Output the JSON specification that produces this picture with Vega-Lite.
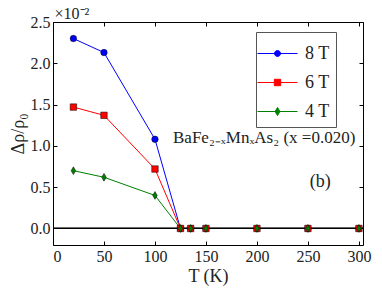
{
  "$schema": "https://vega.github.io/schema/vega-lite/v6.json",
  "width": 310,
  "height": 223,
  "autosize": "none",
  "padding": {"left": 53, "top": 22, "right": 19, "bottom": 43},
  "background": "white",
  "data": {
    "values": [
      {"T": 20, "v": 2.30, "s": "8 T"},
      {"T": 50, "v": 2.13, "s": "8 T"},
      {"T": 100, "v": 1.08, "s": "8 T"},
      {"T": 125, "v": 0, "s": "8 T"},
      {"T": 135, "v": 0, "s": "8 T"},
      {"T": 150, "v": 0, "s": "8 T"},
      {"T": 200, "v": 0, "s": "8 T"},
      {"T": 250, "v": 0, "s": "8 T"},
      {"T": 300, "v": 0, "s": "8 T"},
      {"T": 20, "v": 1.47, "s": "6 T"},
      {"T": 50, "v": 1.37, "s": "6 T"},
      {"T": 100, "v": 0.72, "s": "6 T"},
      {"T": 125, "v": 0, "s": "6 T"},
      {"T": 135, "v": 0, "s": "6 T"},
      {"T": 150, "v": 0, "s": "6 T"},
      {"T": 200, "v": 0, "s": "6 T"},
      {"T": 250, "v": 0, "s": "6 T"},
      {"T": 300, "v": 0, "s": "6 T"},
      {"T": 20, "v": 0.70, "s": "4 T"},
      {"T": 50, "v": 0.62, "s": "4 T"},
      {"T": 100, "v": 0.40, "s": "4 T"},
      {"T": 125, "v": 0, "s": "4 T"},
      {"T": 135, "v": 0, "s": "4 T"},
      {"T": 150, "v": 0, "s": "4 T"},
      {"T": 200, "v": 0, "s": "4 T"},
      {"T": 250, "v": 0, "s": "4 T"},
      {"T": 300, "v": 0, "s": "4 T"}
    ]
  },
  "layer": [
    {
      "mark": {"type": "line", "strokeWidth": 1, "clip": true},
      "encoding": {
        "x": {"field": "T", "type": "quantitative", "scale": {"domain": [0, 304], "nice": false, "zero": false},
          "axis": {"orient": "bottom", "values": [0, 50, 100, 150, 200, 250, 300], "title": "T (K)", "titlePadding": 3}},
        "y": {"field": "v", "type": "quantitative", "scale": {"domain": [-0.2, 2.5], "nice": false, "zero": false},
          "axis": {"orient": "left", "values": [0, 0.5, 1, 1.5, 2, 2.5], "format": ".1f", "title": "Δρ/ρ₀", "titlePadding": 3}},
        "color": {"field": "s", "type": "nominal", "scale": {"domain": ["8 T", "6 T", "4 T"], "range": ["#0000ff", "#ff0000", "#008000"]}, "legend": null}
      }
    },
    {
      "mark": {"type": "rule", "color": "black", "strokeWidth": 1},
      "encoding": {"y": {"datum": 0, "axis": null}}
    },
    {
      "mark": {"type": "point", "filled": true, "opacity": 1, "size": 42, "stroke": "black", "strokeWidth": 0.5},
      "encoding": {
        "x": {"field": "T", "type": "quantitative", "axis": {"orient": "top", "values": [0, 50, 100, 150, 200, 250, 300], "labels": false, "title": null}},
        "y": {"field": "v", "type": "quantitative", "axis": {"orient": "right", "values": [0, 0.5, 1, 1.5, 2, 2.5], "labels": false, "title": null}},
        "color": {"field": "s", "type": "nominal", "legend": null},
        "shape": {"field": "s", "type": "nominal", "scale": {"domain": ["8 T", "6 T", "4 T"], "range": ["circle", "square", "M0,-1.2L0.7,0L0,1.2L-0.7,0Z"]}, "legend": null}
      }
    },
    {
      "transform": [{"filter": "datum.v > 100"}],
      "mark": {"type": "point", "filled": true, "opacity": 1},
      "encoding": {
        "x": {"field": "T", "type": "quantitative", "axis": null},
        "y": {"field": "v", "type": "quantitative", "axis": null},
        "fill": {"field": "s", "type": "nominal", "scale": {"domain": ["8 T", "6 T", "4 T"], "range": ["#0000ff", "#ff0000", "#008000"]}},
        "stroke": {"field": "s", "type": "nominal", "scale": {"domain": ["8 T", "6 T", "4 T"], "range": ["#0000ff", "#ff0000", "#008000"]}},
        "shape": {"field": "s", "type": "nominal", "scale": {"domain": ["8 T", "6 T", "4 T"], "range": [
          "M-1.333,0H1.333M0.2,0A0.2,0.2,0,1,1,-0.2,0A0.2,0.2,0,1,1,0.2,0Z",
          "M-1.333,0H1.333M-0.213,-0.213H0.213V0.213H-0.213Z",
          "M-1.333,0H1.333M0,-0.27L0.16,0L0,0.27L-0.16,0Z"]}}
      }
    },
    {
      "data": {"values": [{}]},
      "mark": {"type": "text", "text": "BaFe₂₋ₓMnₓAs₂ (x =0.020)", "font": "Liberation Serif", "fontSize": 17, "align": "left", "baseline": "alphabetic", "color": "#222"},
      "encoding": {"x": {"datum": 117.7, "axis": null}, "y": {"datum": 1.035, "axis": null}}
    },
    {
      "data": {"values": [{}]},
      "mark": {"type": "text", "text": "(b)", "font": "Liberation Serif", "fontSize": 18, "align": "center", "baseline": "alphabetic", "color": "#222"},
      "encoding": {"x": {"datum": 262, "axis": null}, "y": {"datum": 0.5, "axis": null}}
    },
    {
      "data": {"values": [{}]},
      "mark": {"type": "text", "text": "×10⁻²", "font": "Liberation Serif", "fontSize": 16, "align": "left", "baseline": "alphabetic", "color": "#222", "clip": false},
      "encoding": {"x": {"datum": 1.5, "axis": null}, "y": {"datum": 2.542, "axis": null}}
    }
  ],
  "resolve": {"axis": {"x": "independent", "y": "independent"}, "scale": {"shape": "independent", "fill": "independent", "stroke": "independent"}},
  "config": {
    "view": {"stroke": "black", "strokeWidth": 1},
    "axis": {
      "domain": false, "grid": false, "ticks": true, "tickSize": 4, "offset": -4, "tickColor": "black", "tickWidth": 1, "zindex": 1,
      "labelFont": "Liberation Serif", "labelFontSize": 16, "labelColor": "#222", "labelPadding": 3,
      "titleFont": "Liberation Serif", "titleFontSize": 18, "titleFontWeight": "normal", "titleColor": "#222"
    },
    "legend": {
      "orient": "none", "legendX": 203, "legendY": 10, "title": null,
      "strokeColor": "#555", "fillColor": "white", "padding": 6, "rowPadding": 4,
      "symbolSize": 900, "labelFont": "Liberation Serif", "labelFontSize": 18, "labelColor": "#222", "labelOffset": 12,
      "symbolStrokeWidth": 1
    }
  },
  "encoding": {}
}
